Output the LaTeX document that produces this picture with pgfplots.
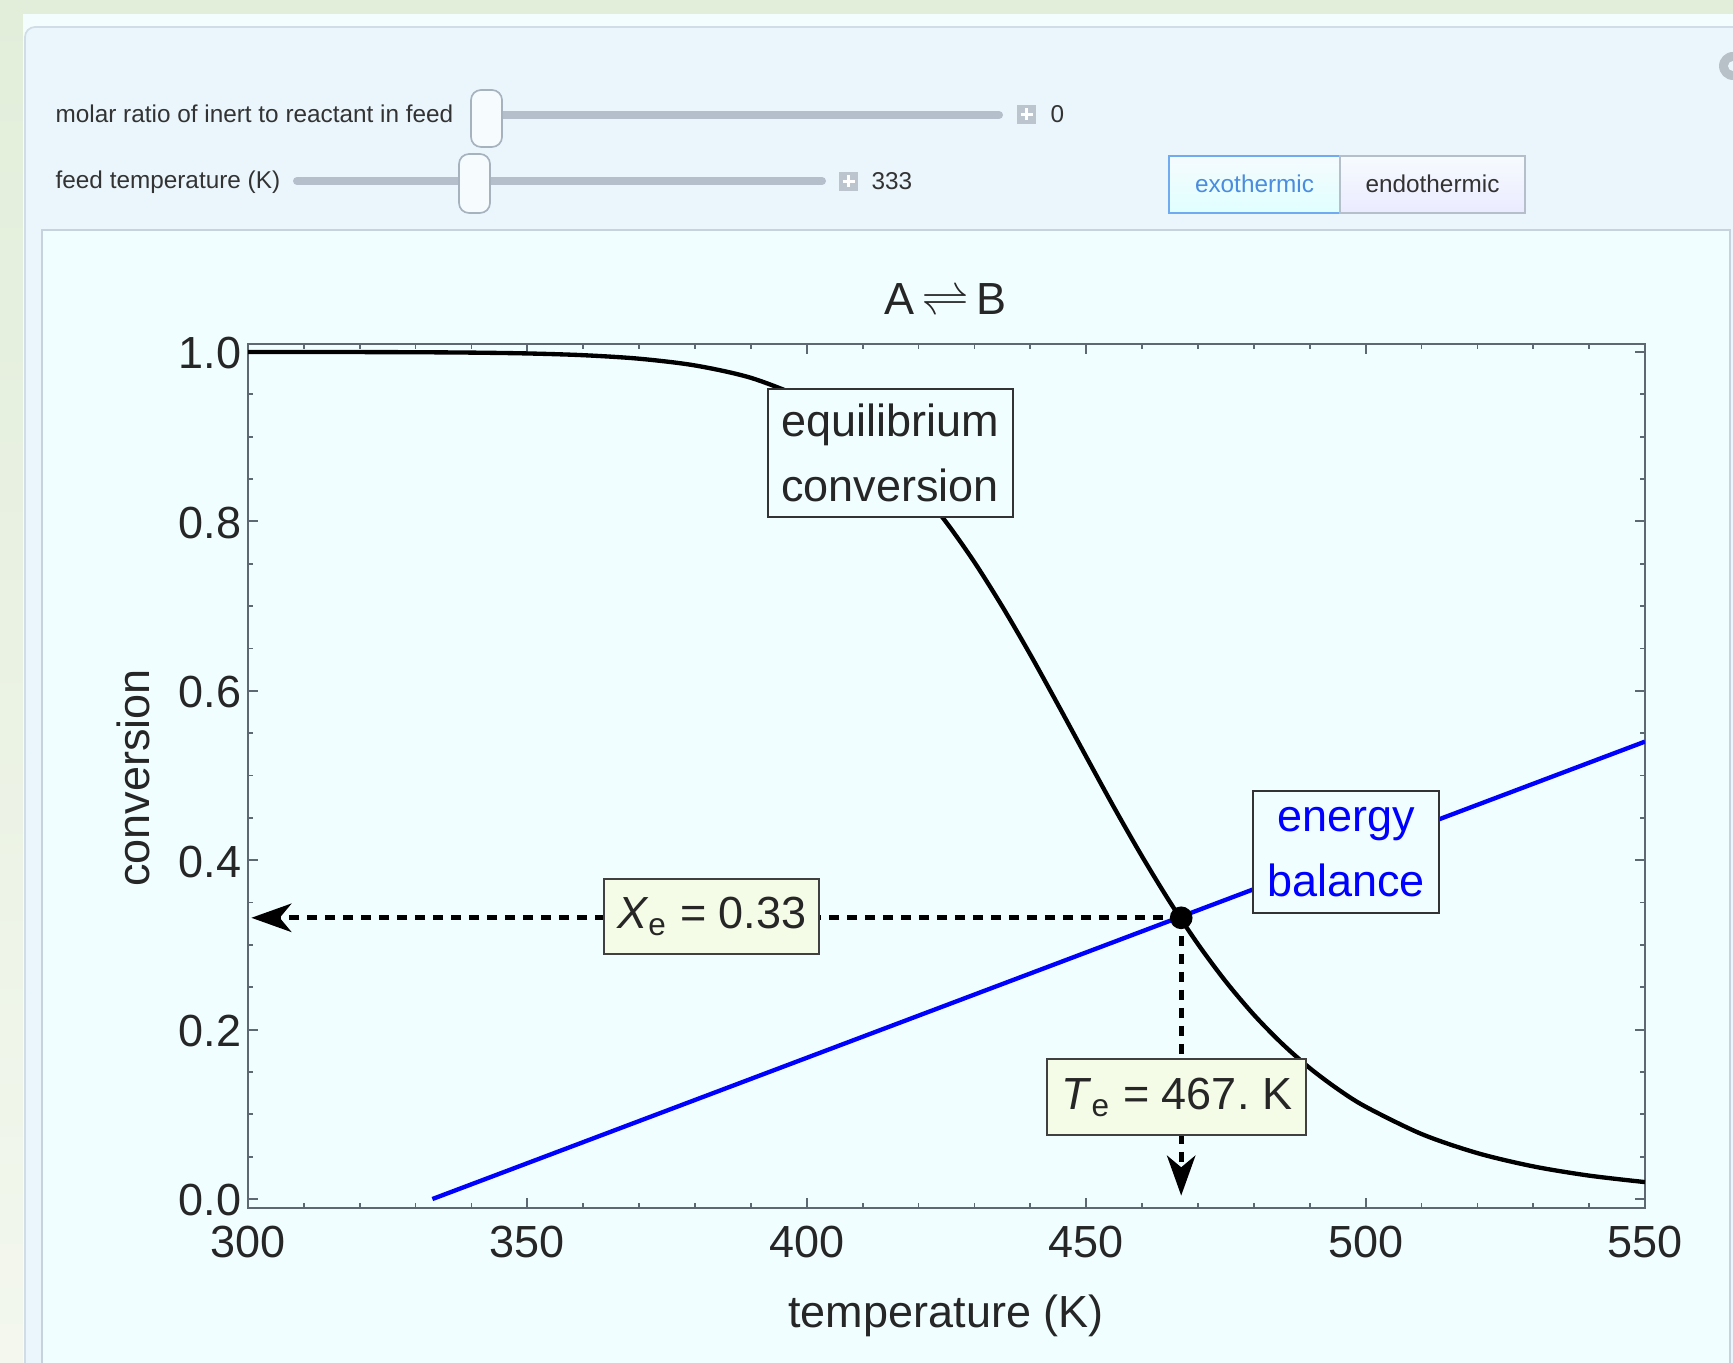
\documentclass[border=0pt]{standalone}
\usepackage{pgfplots}
\pgfplotsset{compat=1.18}
\usepackage{pgfplotstable}
\usepackage{fontspec}
\setmainfont{Liberation Sans}
\usetikzlibrary{arrows.meta}
\definecolor{outergreen}{HTML}{E2EEDA}
\definecolor{outerlight}{HTML}{F3F7EE}
\definecolor{stripw}{HTML}{F3FDFD}
\definecolor{panelblue}{HTML}{EAF6FC}
\definecolor{panelborder}{HTML}{D0DCE6}
\definecolor{panebg}{HTML}{F1FEFF}
\definecolor{paneborder}{HTML}{C6D2DD}
\definecolor{framec}{HTML}{5E6873}
\definecolor{trackc}{HTML}{B5BFCB}
\definecolor{thumbb}{HTML}{A6B2BE}
\definecolor{thumbf}{HTML}{F6FBFE}
\definecolor{plusc}{HTML}{BCC5CE}
\definecolor{ctrltext}{HTML}{333333}
\definecolor{btnblue}{HTML}{70AAF0}
\definecolor{btntext}{HTML}{4A8CDF}
\definecolor{btngrey}{HTML}{B5BFCA}
\definecolor{boxfill}{HTML}{F4FBE7}
\definecolor{ebblue}{HTML}{0000FF}
\definecolor{gearc}{HTML}{B8C0C8}

\pgfplotstableread{
T X
300 1.0000
310 0.99995
320 0.99987
330 0.99968
340 0.99923
350 0.99825
360 0.99618
370 0.99203
380 0.98407
390 0.96946
400 0.94409
405 0.92568
410 0.90257
415 0.87392
420 0.83929
425 0.79851
430 0.75175
435 0.69930
440 0.64267
445 0.58297
450 0.52224
455 0.46207
460 0.40444
465 0.35046
470 0.30091
475 0.25655
480 0.21755
485 0.18377
490 0.15460
495 0.12988
500 0.10900
510 0.07677
520 0.05422
530 0.03853
540 0.02763
550 0.01999
}\eqconv

\pgfplotstableread{
T X
333 0.0
550 0.54
}\enbal

\begin{document}
\begin{tikzpicture}
\path[use as bounding box] (0pt,0pt) rectangle (519.9pt,-408.9pt);
\begin{scope}[x=0.3pt,y=-0.3pt]
\clip (0,0) rectangle (1733,1363);
\shade[top color=outergreen, bottom color=outerlight] (0,0) rectangle (1733,1363);
\fill[outergreen] (0,0) rectangle (1733,14);
\fill[stripw] (23,14) rectangle (1733,1363);
\filldraw[fill=panelblue, draw=panelborder, line width=0.5pt, rounded corners=3pt] (25,27) rectangle (1780,1420);
\filldraw[fill=panebg, draw=paneborder, line width=0.5pt] (42,230) rectangle (1730,1420);
% gear
\fill[gearc] (1733,66) circle (14);
\fill[panelblue] (1733,66) circle (5);
% slider 1
\node[anchor=base west, inner sep=0, text=ctrltext, font=\fontsize{7.3}{9}\selectfont] at (55,123) {molar ratio of inert to reactant in feed};
\draw[trackc, line width=2.4pt, line cap=round] (482,115) -- (999,115);
\filldraw[fill=thumbf, draw=thumbb, line width=0.5pt, rounded corners=3pt] (471,90) rectangle (502,147);
\fill[plusc] (1017,105) rectangle (1036,124);
\draw[white, line width=1.1pt] (1020.5,114.5) -- (1032.5,114.5) (1026.5,108.5) -- (1026.5,120.5);
\node[anchor=base west, inner sep=0, text=ctrltext, font=\fontsize{7.3}{9}\selectfont] at (1050,123) {0};
% slider 2
\node[anchor=base west, inner sep=0, text=ctrltext, font=\fontsize{7.3}{9}\selectfont] at (55,189) {feed temperature (K)};
\draw[trackc, line width=2.4pt, line cap=round] (297,181) -- (822,181);
\filldraw[fill=thumbf, draw=thumbb, line width=0.5pt, rounded corners=3pt] (459,154) rectangle (490,213);
\fill[plusc] (839,172) rectangle (858,191);
\draw[white, line width=1.1pt] (842.5,181.5) -- (854.5,181.5) (848.5,175.5) -- (848.5,187.5);
\node[anchor=base west, inner sep=0, text=ctrltext, font=\fontsize{7.3}{9}\selectfont] at (871,190) {333};
% buttons
\shade[top color=white!55!panelblue, bottom color=cyan!12!white] (1169,156) rectangle (1340,213);
\draw[btnblue, line width=0.8pt] (1169,156) rectangle (1340,213);
\node[anchor=base, inner sep=0, text=btntext, font=\fontsize{7.3}{9}\selectfont] at (1254.5,193) {exothermic};
\shade[top color=white!60!panelblue, bottom color=blue!8!white] (1340,156) rectangle (1525,213);
\draw[btngrey, line width=0.6pt] (1340,156) rectangle (1525,213);
\node[anchor=base, inner sep=0, text=ctrltext, font=\fontsize{7.3}{9}\selectfont] at (1432.5,193) {endothermic};
% plot texts
\node[font=\fontsize{13.5}{16}\selectfont, text=black!85] at (945,299) {A\,$\rightleftharpoons$\,B};
\node[font=\fontsize{13.5}{16}\selectfont, text=black!85] at (946,1316) {temperature (K)};
\node[font=\fontsize{13.5}{16}\selectfont, text=black!85, rotate=90] at (133,778) {conversion};
\end{scope}

\begin{axis}[
  at={(74.4pt,-362.4pt)}, anchor=south west,
  scale only axis, width=419.1pt, height=259.2pt,
  xmin=300, xmax=550, ymin=-0.0106, ymax=1.0094,
  axis background/.style={fill=panebg},
  axis line style={framec, line width=0.8pt},
  xtick={300,350,400,450,500,550},
  ytick={0,0.2,0.4,0.6,0.8,1},
  minor x tick num=4, minor y tick num=3,
  tick align=inside,
  major tick length=3pt, minor tick length=1.6pt,
  tick style={framec, line width=0.6pt},
  minor tick style={framec, line width=0.5pt},
  /pgf/number format/assume math mode=true,
  ticklabel style={font=\fontsize{13.5}{16}\selectfont, text=black!85},
  xticklabel style={yshift=-2pt},
  yticklabel style={xshift=1.5pt, yshift=-0.4pt, /pgf/number format/.cd, fixed, fixed zerofill, precision=1},
  scaled ticks=false,
]
\addplot[black, line width=1.3pt, smooth] table[x=T, y=X] {\eqconv};
\addplot[ebblue, line width=1.3pt] table[x=T, y=X] {\enbal};
\addplot[black, line width=1.4pt, dash pattern=on 3.2pt off 2.2pt, -{Stealth[length=12pt,width=8.5pt,inset=3.5pt]}] coordinates {(467,0.332) (300.6,0.332)};
\addplot[black, line width=1.4pt, dash pattern=on 3.2pt off 2.2pt, -{Stealth[length=12pt,width=8.5pt,inset=3.5pt]}] coordinates {(467,0.332) (467,0.004)};
\addplot[only marks, mark=*, mark size=3.2pt, black] coordinates {(467,0.332)};
\node[draw=black!80, line width=0.6pt, fill=panebg, align=center, text=black!85, font=\fontsize{13.5}{19.5}\selectfont, minimum width=73.5pt, minimum height=38.4pt, inner sep=2pt] at (axis cs:414.9,0.881) {equilibrium\\conversion};
\node[draw=black!80, line width=0.6pt, fill=panebg, align=center, text=ebblue, font=\fontsize{13.5}{19.5}\selectfont, minimum width=55.8pt, minimum height=36.6pt, inner sep=2pt] at (axis cs:496.5,0.410) {energy\\balance};
\node[draw=black!75, line width=0.6pt, fill=boxfill, text=black!85, font=\fontsize{13.5}{16}\selectfont, minimum width=64.5pt, minimum height=22.5pt, inner sep=2pt] at (axis cs:383.0,0.334) {\textit{X}\textsubscript{e} = 0.33};
\node[draw=black!75, line width=0.6pt, fill=boxfill, text=black!85, font=\fontsize{13.5}{16}\selectfont, minimum width=77.7pt, minimum height=22.8pt, inner sep=2pt] at (axis cs:466.2,0.120) {\textit{T}\textsubscript{e} = 467.\ K};
\end{axis}
\end{tikzpicture}
\end{document}
